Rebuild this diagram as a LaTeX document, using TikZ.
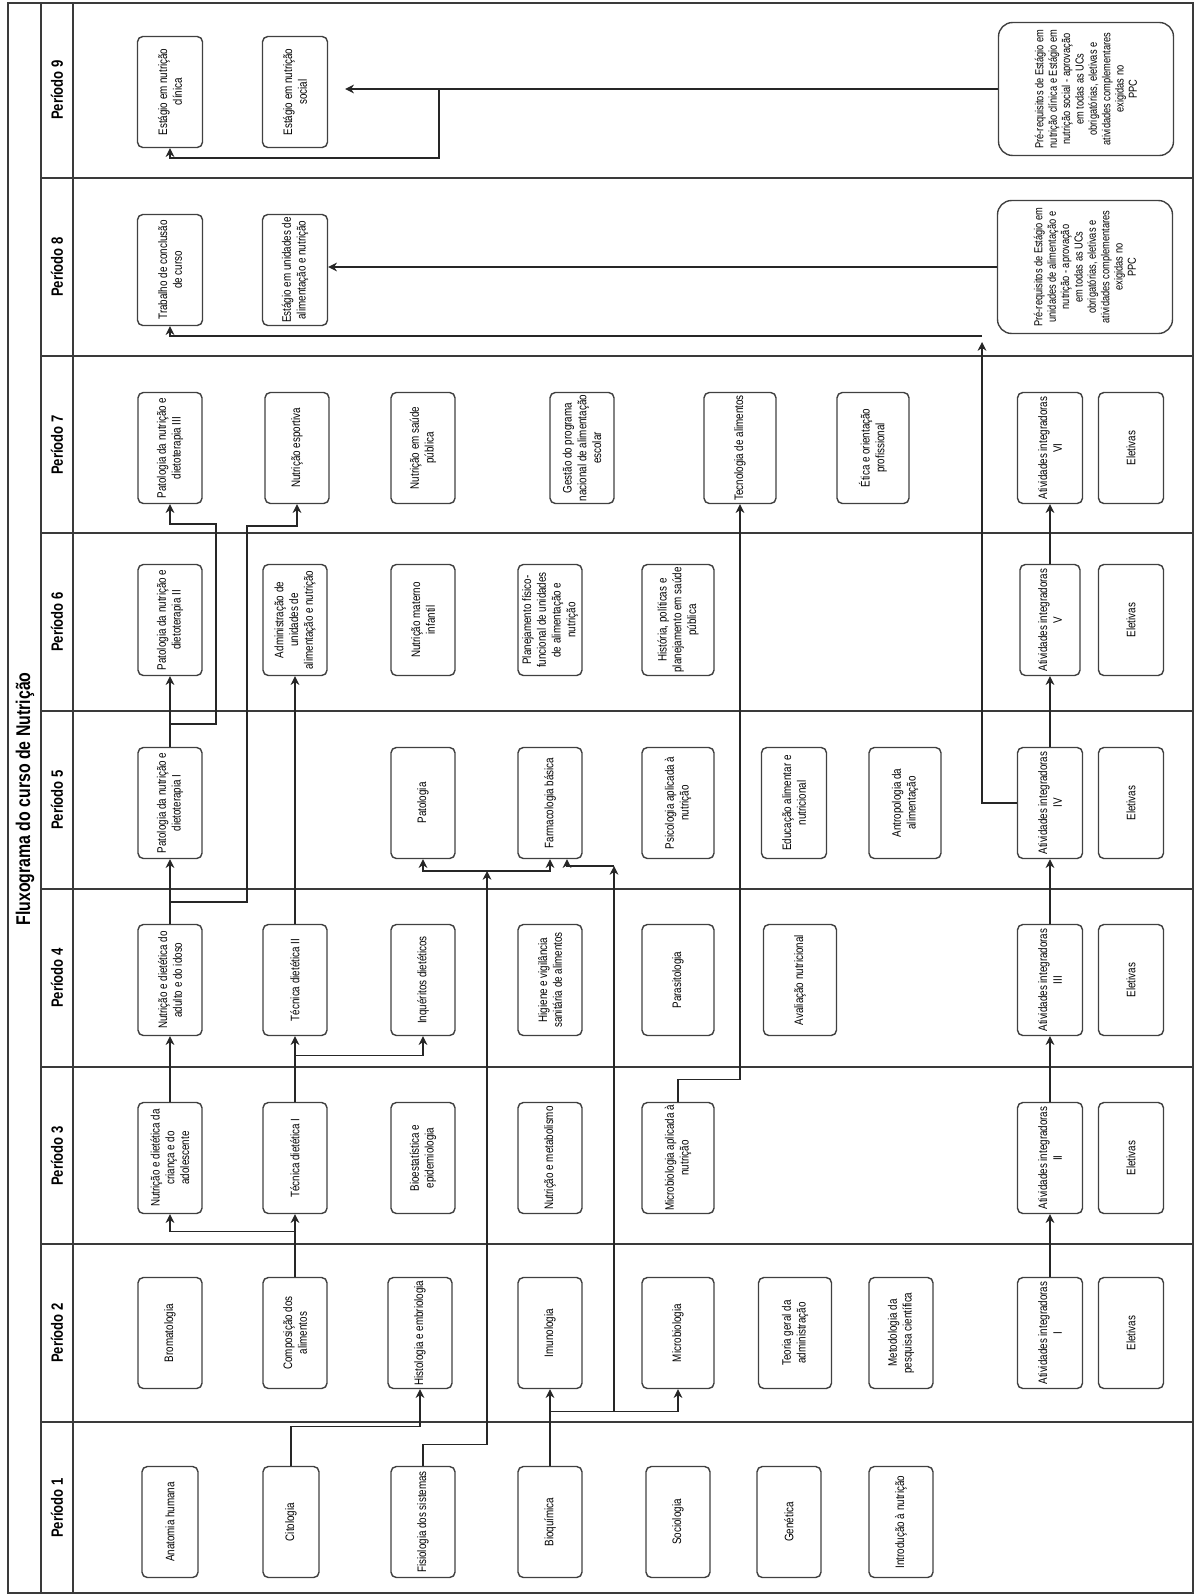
\documentclass[tikz,border=0pt]{standalone}
\usepackage{fontspec}
\setmainfont{Liberation Sans}[FakeStretch=0.8]
\usetikzlibrary{arrows.meta,calc}
\definecolor{fline}{HTML}{3A3A3A}
\definecolor{fbox}{HTML}{404040}
\tikzset{
  >={Stealth[length=5pt,width=5pt]},
  lane/.style={fline, line width=0.9pt},
  ucbox/.style={draw=fbox, line width=0.8pt, rounded corners=3pt, rotate=90,
                align=center, minimum width=2.22cm, minimum height=1.28cm,
                inner sep=1pt, font=\fontsize{7}{8.4}\selectfont},
  prebox/.style={ucbox, rounded corners=8pt, minimum width=2.66cm,
                 minimum height=3.5cm, font=\fontsize{6.6}{7.6}\selectfont},
  plabel/.style={rotate=90, font=\fontsize{9.3}{11}\selectfont\bfseries},
  flow/.style={->, black!85, line width=0.7pt},
}

\begin{document}
\begin{tikzpicture}[x=0.02cm,y=-0.02cm]
  \useasboundingbox (0,0) rectangle (1196,1595);

  % --- moldura e raias ---
  \draw[lane] (8,3) rectangle (1193,1593);
  \draw[lane] (41,3) -- (41,1593);
  \draw[lane] (73,3) -- (73,1593);
  \foreach \y in {178,356,533,711,889,1067,1244,1422}
    \draw[lane] (41,\y) -- (1193,\y);

  \node[rotate=90, font=\fontsize{11.3}{13}\selectfont\bfseries] (titulo)
    at (25,799) {Fluxograma do curso de Nutrição};
  \foreach \n/\y in {9/90,8/267,7/445,6/622,5/800,4/978,3/1156,2/1333,1/1508}
    \node[plabel] (per\n) at (57,\y) {Período \n};

  % --- Período 1 ---
  \node[ucbox, minimum height=1.12cm] (anat) at (170,1522) {Anatomia humana};
  \node[ucbox, minimum height=1.12cm] (cito) at (291,1522) {Citologia};
  \node[ucbox] (fisio) at (423,1522) {Fisiologia dos sistemas};
  \node[ucbox] (bioq) at (550,1522) {Bioquímica};
  \node[ucbox] (socio) at (678,1522) {Sociologia};
  \node[ucbox] (genet) at (789,1522) {Genética};
  \node[ucbox] (intro) at (901,1522) {Introdução à nutrição};

  % --- Período 2 ---
  \node[ucbox] (broma) at (170,1333) {Bromatologia};
  \node[ucbox] (compo) at (295,1333) {Composição dos\\alimentos};
  \node[ucbox] (histo) at (420,1333) {Histologia e embriologia};
  \node[ucbox] (imuno) at (550,1333) {Imunologia};
  \node[ucbox, minimum height=1.44cm] (micro) at (678,1333) {Microbiologia};
  \node[ucbox, minimum height=1.46cm] (teoria) at (795,1333) {Teoria geral da\\administração};
  \node[ucbox] (metod) at (901,1333) {Metodologia da\\pesquisa científica};
  \node[ucbox, minimum height=1.3cm] (ai1) at (1050,1333) {Atividades integradoras\\I};
  \node[ucbox, minimum height=1.3cm] (elet2) at (1131,1333) {Eletivas};

  % --- Período 3 ---
  \node[ucbox] (crianca) at (170,1158) {Nutrição e dietética da\\criança e do\\adolescente};
  \node[ucbox] (tec1) at (295,1158) {Técnica dietética I};
  \node[ucbox] (bioest) at (423,1158) {Bioestatística e\\epidemiologia};
  \node[ucbox] (metab) at (550,1158) {Nutrição e metabolismo};
  \node[ucbox, minimum height=1.44cm] (microap) at (678,1158) {Microbiologia aplicada à\\nutrição};
  \node[ucbox, minimum height=1.3cm] (ai2) at (1050,1158) {Atividades integradoras\\II};
  \node[ucbox, minimum height=1.3cm] (elet3) at (1131,1158) {Eletivas};

  % --- Período 4 ---
  \node[ucbox] (adulto) at (170,980) {Nutrição e dietética do\\adulto e do idoso};
  \node[ucbox] (tec2) at (295,980) {Técnica dietética II};
  \node[ucbox] (inquer) at (423,980) {Inquéritos dietéticos};
  \node[ucbox] (higiene) at (550,980) {Higiene e vigilância\\sanitária de alimentos};
  \node[ucbox, minimum height=1.44cm] (parasit) at (678,980) {Parasitologia};
  \node[ucbox, minimum height=1.46cm] (avalia) at (800,980) {Avaliação nutricional};
  \node[ucbox, minimum height=1.3cm] (ai3) at (1050,980) {Atividades integradoras\\III};
  \node[ucbox, minimum height=1.3cm] (elet4) at (1131,980) {Eletivas};

  % --- Período 5 ---
  \node[ucbox] (pat1) at (170,803) {Patologia da nutrição e\\dietoterapia I};
  \node[ucbox] (patol) at (423,803) {Patologia};
  \node[ucbox] (farma) at (550,803) {Farmacologia básica};
  \node[ucbox, minimum height=1.44cm] (psico) at (678,803) {Psicologia aplicada à\\nutrição};
  \node[ucbox, minimum height=1.3cm] (educ) at (794,803) {Educação alimentar e\\nutricional};
  \node[ucbox, minimum height=1.44cm] (antro) at (905,803) {Antropologia da\\alimentação};
  \node[ucbox, minimum height=1.3cm] (ai4) at (1050,803) {Atividades integradoras\\IV};
  \node[ucbox, minimum height=1.3cm] (elet5) at (1131,803) {Eletivas};

  % --- Período 6 ---
  \node[ucbox] (pat2) at (170,620) {Patologia da nutrição e\\dietoterapia II};
  \node[ucbox] (admin) at (295,620) {Administração de\\unidades de\\alimentação e nutrição};
  \node[ucbox] (materno) at (423,620) {Nutrição materno\\infantil};
  \node[ucbox] (planej) at (550,620) {Planejamento físico-\\funcional de unidades\\de alimentação e\\nutrição};
  \node[ucbox, minimum height=1.44cm] (histpol) at (678,620) {História, políticas e\\planejamento em saúde\\pública};
  \node[ucbox, minimum height=1.2cm] (ai5) at (1050,620) {Atividades integradoras\\V};
  \node[ucbox, minimum height=1.3cm] (elet6) at (1131,620) {Eletivas};

  % --- Período 7 ---
  \node[ucbox] (pat3) at (170,448) {Patologia da nutrição e\\dietoterapia III};
  \node[ucbox] (esport) at (297,448) {Nutrição esportiva};
  \node[ucbox] (saudepub) at (423,448) {Nutrição em saúde\\pública};
  \node[ucbox] (gestao) at (582,448) {Gestão do programa\\nacional de alimentação\\escolar};
  \node[ucbox, minimum height=1.44cm] (tecalim) at (740,448) {Tecnologia de alimentos};
  \node[ucbox, minimum height=1.44cm] (etica) at (873,448) {Ética e orientação\\profissional};
  \node[ucbox, minimum height=1.3cm] (ai6) at (1050,448) {Atividades integradoras\\VI};
  \node[ucbox, minimum height=1.3cm] (elet7) at (1131,448) {Eletivas};

  % --- Período 8 ---
  \node[ucbox, minimum height=1.3cm] (tcc) at (170,270) {Trabalho de conclusão\\de curso};
  \node[ucbox, minimum height=1.3cm] (estuan) at (295,270) {Estágio em unidades de\\alimentação e nutrição};
  \node[prebox] (pre8) at (1085,267) {Pré-requisitos de Estágio em\\unidades de alimentação e\\nutrição - aprovação\\em todas as UCs\\obrigatórias, eletivas e\\atividades complementares\\exigidas no\\PPC};

  % --- Período 9 ---
  \node[ucbox, minimum height=1.3cm] (estclin) at (170,92) {Estágio em nutrição\\clínica};
  \node[ucbox, minimum height=1.3cm] (estsoc) at (295,92) {Estágio em nutrição\\social};
  \node[prebox] (pre9) at (1086,89) {Pré-requisitos de Estágio em\\nutrição clínica e Estágio em\\nutrição social - aprovação\\em todas as UCs\\obrigatórias, eletivas e\\atividades complementares\\exigidas no\\PPC};

  % --- pré-requisitos ---
  \coordinate (jfis) at (487,871);
  \coordinate (jbio) at (614,866);
  \coordinate (jtcc) at (982,342);
  \coordinate (jtcc2) at (982,336);
  \coordinate (jest) at (pre9.north -| 439,0);

  \draw[flow] (cito.east) -- ++(0,-39) -| (histo.west);
  \draw[flow] (fisio.east) -- ++(0,-21) -| (jfis);
  \draw[flow] (jfis) -| (patol.west);
  \draw[flow] (jfis) -| (farma.west);
  \draw[flow] (bioq.east) -- (imuno.west);
  \draw[flow] (bioq.east) -- ++(0,-54) -| (micro.west);
  \draw[flow] (bioq.east) -- ++(0,-54) -| (jbio);
  \draw[flow] (jbio) -| ([xshift=0.34cm]farma.west);

  \draw[flow] (compo.east) -- (tec1.west);
  \draw[flow] (compo.east) -- ++(0,-45) -| (crianca.west);
  \draw[flow] (crianca.east) -- (adulto.west);
  \draw[flow] (tec1.east) -- (tec2.west);
  \draw[flow] (tec1.east) -- ++(0,-46) -| (inquer.west);
  \draw[flow] (microap.east) -- ++(0,-22) -| (tecalim.west);

  \draw[flow] (adulto.east) -- (pat1.west);
  \draw[flow] (adulto.east) |- (247,902) |- (esport.west |- 0,526) -- (esport.west);
  \draw[flow] (tec2.east) -- (admin.west);
  \draw[flow] (pat1.east) -- (pat2.west);
  \draw[flow] (pat1.east) |- (216,724) |- (pat3.west |- 0,524) -- (pat3.west);

  % atividades integradoras
  \foreach \a/\b in {ai1/ai2,ai2/ai3,ai3/ai4,ai4/ai5,ai5/ai6}
    \draw[flow] (\a.east) -- (\b.west);
  \draw[flow] (ai4.north) -| (jtcc);
  \draw[flow] (jtcc2) -| (tcc.west);

  % estágios
  \draw[flow] (pre8.north) -- (pre8.north -| estuan.south);
  \draw[flow, shorten >=0.34cm] (pre9.north) -- (pre9.north -| estsoc.south);
  \draw[flow] (jest) |- (estclin.west |- 0,158) -- (estclin.west);

\end{tikzpicture}
\end{document}
